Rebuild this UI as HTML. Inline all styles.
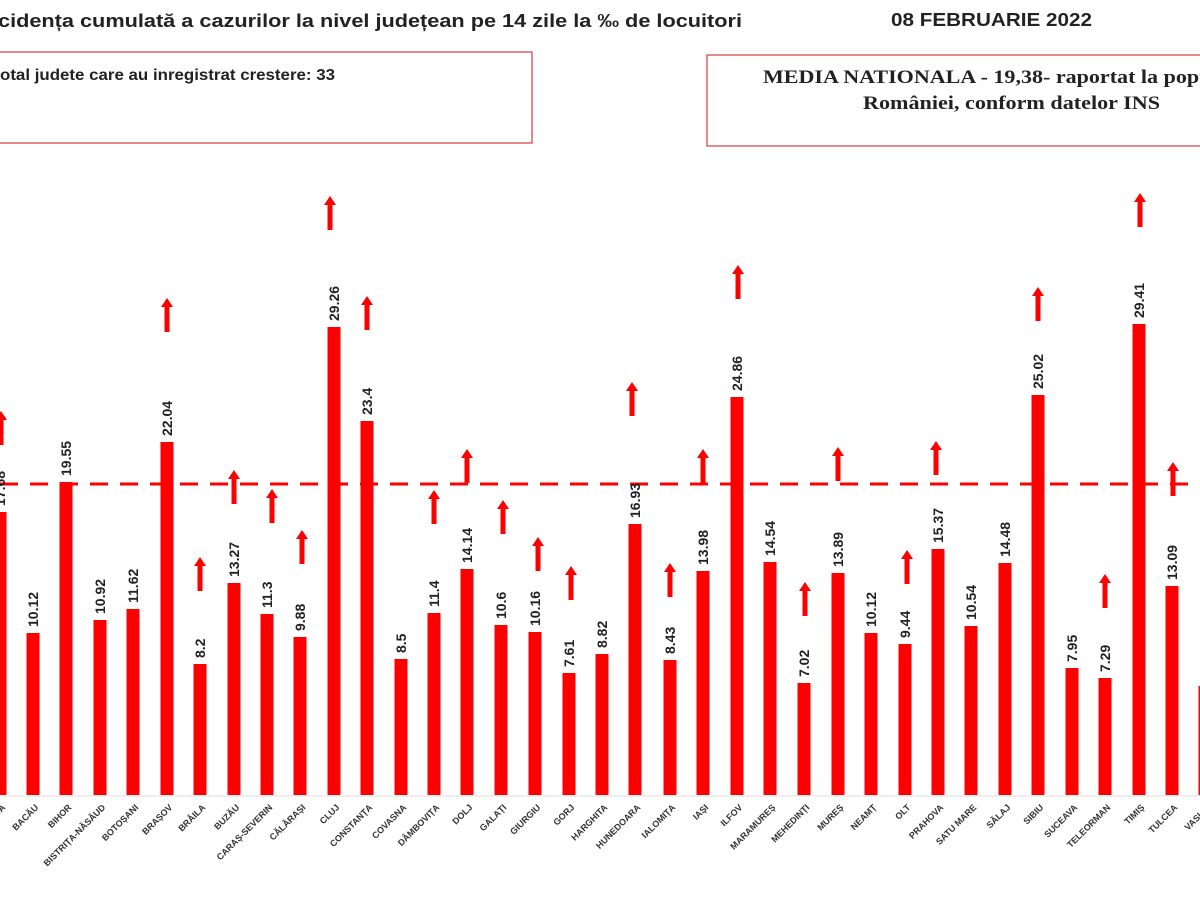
<!DOCTYPE html><html><head><meta charset="utf-8"><style>body{margin:0;background:#fff}svg{display:block}</style></head><body>
<svg width="1200" height="900" viewBox="0 0 1200 900" xmlns="http://www.w3.org/2000/svg" font-family="Liberation Sans, sans-serif">
<defs><path id="a" d="M0 0 L6 9 L2.5 9 L2.5 34 L-2.5 34 L-2.5 9 L-6 9 Z" fill="#f00"/></defs>
<text x="-2" y="27" font-size="18" font-weight="bold" fill="#222" textLength="744" lengthAdjust="spacingAndGlyphs">cidența cumulată a cazurilor la nivel județean pe 14 zile la ‰ de locuitori</text>
<text x="891" y="26" font-size="18" font-weight="bold" fill="#222" textLength="201" lengthAdjust="spacingAndGlyphs">08 FEBRUARIE 2022</text>
<rect x="-5" y="52" width="537" height="91" fill="none" stroke="#e06060" stroke-width="1.5"/>
<text x="0" y="80" font-size="16" font-weight="bold" fill="#222" textLength="335" lengthAdjust="spacingAndGlyphs">otal judete care au inregistrat crestere: 33</text>
<rect x="707" y="55" width="500" height="91" fill="none" stroke="#e06060" stroke-width="1.5"/>
<text x="763" y="83" font-size="19" font-weight="bold" fill="#222" font-family="Liberation Serif, serif" textLength="490" lengthAdjust="spacingAndGlyphs">MEDIA NATIONALA - 19,38-  raportat la populatia</text>
<text x="863" y="109" font-size="19" font-weight="bold" fill="#222" font-family="Liberation Serif, serif" textLength="297" lengthAdjust="spacingAndGlyphs">României, conform datelor INS</text>
<line x1="0" y1="484" x2="1200" y2="484" stroke="#f00" stroke-width="3" stroke-dasharray="18 12"/>
<g fill="#f00">
<rect x="-6.5" y="512" width="13" height="283"/><rect x="26.5" y="633" width="13" height="162"/><rect x="59.5" y="482" width="13" height="313"/><rect x="93.5" y="620" width="13" height="175"/><rect x="126.5" y="609" width="13" height="186"/><rect x="160.5" y="442" width="13" height="353"/><rect x="193.5" y="664" width="13" height="131"/><rect x="227.5" y="583" width="13" height="212"/><rect x="260.5" y="614" width="13" height="181"/><rect x="293.5" y="637" width="13" height="158"/><rect x="327.5" y="327" width="13" height="468"/><rect x="360.5" y="421" width="13" height="374"/><rect x="394.5" y="659" width="13" height="136"/><rect x="427.5" y="613" width="13" height="182"/><rect x="460.5" y="569" width="13" height="226"/><rect x="494.5" y="625" width="13" height="170"/><rect x="528.5" y="632" width="13" height="163"/><rect x="562.5" y="673" width="13" height="122"/><rect x="595.5" y="654" width="13" height="141"/><rect x="628.5" y="524" width="13" height="271"/><rect x="663.5" y="660" width="13" height="135"/><rect x="696.5" y="571" width="13" height="224"/><rect x="730.5" y="397" width="13" height="398"/><rect x="763.5" y="562" width="13" height="233"/><rect x="797.5" y="683" width="13" height="112"/><rect x="831.5" y="573" width="13" height="222"/><rect x="864.5" y="633" width="13" height="162"/><rect x="898.5" y="644" width="13" height="151"/><rect x="931.5" y="549" width="13" height="246"/><rect x="964.5" y="626" width="13" height="169"/><rect x="998.5" y="563" width="13" height="232"/><rect x="1031.5" y="395" width="13" height="400"/><rect x="1065.5" y="668" width="13" height="127"/><rect x="1098.5" y="678" width="13" height="117"/><rect x="1132.5" y="324" width="13" height="471"/><rect x="1165.5" y="586" width="13" height="209"/><rect x="1198.5" y="686" width="13" height="109"/>
</g>
<line x1="0" y1="796" x2="1200" y2="796" stroke="#ddd" stroke-width="1"/>
<g>
<use href="#a" x="1" y="411"/><use href="#a" x="167" y="298"/><use href="#a" x="200" y="557"/><use href="#a" x="234" y="470"/><use href="#a" x="272" y="489"/><use href="#a" x="302" y="530"/><use href="#a" x="330" y="196"/><use href="#a" x="367" y="296"/><use href="#a" x="434" y="490"/><use href="#a" x="467" y="449"/><use href="#a" x="503" y="500"/><use href="#a" x="538" y="537"/><use href="#a" x="571" y="566"/><use href="#a" x="632" y="382"/><use href="#a" x="670" y="563"/><use href="#a" x="703" y="449"/><use href="#a" x="738" y="265"/><use href="#a" x="805" y="582"/><use href="#a" x="838" y="447"/><use href="#a" x="907" y="550"/><use href="#a" x="936" y="441"/><use href="#a" x="1038" y="287"/><use href="#a" x="1105" y="574"/><use href="#a" x="1140" y="193"/><use href="#a" x="1173" y="462"/>
</g>
<g font-size="14" font-weight="bold" fill="#222">
<text transform="translate(5,506) rotate(-90)">17.68</text><text transform="translate(38,627) rotate(-90)">10.12</text><text transform="translate(71,476) rotate(-90)">19.55</text><text transform="translate(105,614) rotate(-90)">10.92</text><text transform="translate(138,603) rotate(-90)">11.62</text><text transform="translate(172,436) rotate(-90)">22.04</text><text transform="translate(205,658) rotate(-90)">8.2</text><text transform="translate(239,577) rotate(-90)">13.27</text><text transform="translate(272,608) rotate(-90)">11.3</text><text transform="translate(305,631) rotate(-90)">9.88</text><text transform="translate(339,321) rotate(-90)">29.26</text><text transform="translate(372,415) rotate(-90)">23.4</text><text transform="translate(406,653) rotate(-90)">8.5</text><text transform="translate(439,607) rotate(-90)">11.4</text><text transform="translate(472,563) rotate(-90)">14.14</text><text transform="translate(506,619) rotate(-90)">10.6</text><text transform="translate(540,626) rotate(-90)">10.16</text><text transform="translate(574,667) rotate(-90)">7.61</text><text transform="translate(607,648) rotate(-90)">8.82</text><text transform="translate(640,518) rotate(-90)">16.93</text><text transform="translate(675,654) rotate(-90)">8.43</text><text transform="translate(708,565) rotate(-90)">13.98</text><text transform="translate(742,391) rotate(-90)">24.86</text><text transform="translate(775,556) rotate(-90)">14.54</text><text transform="translate(809,677) rotate(-90)">7.02</text><text transform="translate(843,567) rotate(-90)">13.89</text><text transform="translate(876,627) rotate(-90)">10.12</text><text transform="translate(910,638) rotate(-90)">9.44</text><text transform="translate(943,543) rotate(-90)">15.37</text><text transform="translate(976,620) rotate(-90)">10.54</text><text transform="translate(1010,557) rotate(-90)">14.48</text><text transform="translate(1043,389) rotate(-90)">25.02</text><text transform="translate(1077,662) rotate(-90)">7.95</text><text transform="translate(1110,672) rotate(-90)">7.29</text><text transform="translate(1144,318) rotate(-90)">29.41</text><text transform="translate(1177,580) rotate(-90)">13.09</text><text transform="translate(1210,680) rotate(-90)">6.8</text>
</g>
<g font-size="9" font-weight="bold" fill="#333" text-anchor="end">
<text transform="translate(6,808) rotate(-45)">ALBA</text><text transform="translate(39,808) rotate(-45)">BACĂU</text><text transform="translate(72,808) rotate(-45)">BIHOR</text><text transform="translate(106,808) rotate(-45)">BISTRIȚA-NĂSĂUD</text><text transform="translate(139,808) rotate(-45)">BOTOȘANI</text><text transform="translate(173,808) rotate(-45)">BRAȘOV</text><text transform="translate(206,808) rotate(-45)">BRĂILA</text><text transform="translate(240,808) rotate(-45)">BUZĂU</text><text transform="translate(273,808) rotate(-45)">CARAȘ-SEVERIN</text><text transform="translate(306,808) rotate(-45)">CĂLĂRAȘI</text><text transform="translate(340,808) rotate(-45)">CLUJ</text><text transform="translate(373,808) rotate(-45)">CONSTANȚA</text><text transform="translate(407,808) rotate(-45)">COVASNA</text><text transform="translate(440,808) rotate(-45)">DÂMBOVIȚA</text><text transform="translate(473,808) rotate(-45)">DOLJ</text><text transform="translate(507,808) rotate(-45)">GALAȚI</text><text transform="translate(541,808) rotate(-45)">GIURGIU</text><text transform="translate(575,808) rotate(-45)">GORJ</text><text transform="translate(608,808) rotate(-45)">HARGHITA</text><text transform="translate(641,808) rotate(-45)">HUNEDOARA</text><text transform="translate(676,808) rotate(-45)">IALOMIȚA</text><text transform="translate(709,808) rotate(-45)">IAȘI</text><text transform="translate(743,808) rotate(-45)">ILFOV</text><text transform="translate(776,808) rotate(-45)">MARAMUREȘ</text><text transform="translate(810,808) rotate(-45)">MEHEDINȚI</text><text transform="translate(844,808) rotate(-45)">MUREȘ</text><text transform="translate(877,808) rotate(-45)">NEAMȚ</text><text transform="translate(911,808) rotate(-45)">OLT</text><text transform="translate(944,808) rotate(-45)">PRAHOVA</text><text transform="translate(977,808) rotate(-45)">SATU MARE</text><text transform="translate(1011,808) rotate(-45)">SĂLAJ</text><text transform="translate(1044,808) rotate(-45)">SIBIU</text><text transform="translate(1078,808) rotate(-45)">SUCEAVA</text><text transform="translate(1111,808) rotate(-45)">TELEORMAN</text><text transform="translate(1145,808) rotate(-45)">TIMIȘ</text><text transform="translate(1178,808) rotate(-45)">TULCEA</text><text transform="translate(1211,808) rotate(-45)">VASLUI</text>
</g>
</svg>
</body></html>
